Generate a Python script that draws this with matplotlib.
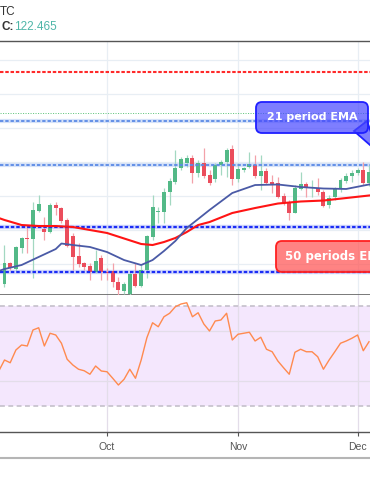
import matplotlib
matplotlib.use('Agg')
import matplotlib.pyplot as plt
from matplotlib.patches import FancyBboxPatch, Polygon
import numpy as np

plt.rcParams['lines.scale_dashes'] = False

# daily candles, trading-day index 0..64
opens = [120.706, 121.010, 120.922, 121.239, 121.386, 121.363, 121.779, 121.514, 121.475, 121.863,
         121.819, 121.647, 121.411, 121.117, 121.010, 120.970, 120.886, 121.083, 120.886, 120.901,
         120.739, 120.607, 120.558, 120.853, 120.681, 120.911, 121.401, 121.760, 121.769, 122.054,
         122.210, 122.407, 122.489, 122.554, 122.333, 122.481, 122.308, 122.245, 122.456, 122.504,
         122.686, 122.245, 122.382, 122.422, 122.456, 122.294, 122.372, 122.206, 122.186, 122.000,
         121.901, 121.754, 122.098, 122.172, 122.113, 122.113, 122.063, 121.867, 121.981, 122.098,
         122.225, 122.294, 122.333, 122.382, 122.191]
highs = [121.279, 121.033, 121.264, 121.401, 121.573, 121.916, 122.014, 121.695, 121.901, 121.916,
         121.842, 121.672, 121.451, 121.304, 121.033, 121.010, 121.206, 121.132, 120.936, 121.010,
         120.813, 120.739, 120.886, 121.010, 120.985, 121.426, 122.014, 121.842, 122.113, 122.260,
         122.676, 122.578, 122.603, 122.603, 122.529, 122.701, 122.382, 122.481, 122.529, 122.701,
         122.750, 122.481, 122.431, 122.651, 122.603, 122.603, 122.407, 122.308, 122.283, 122.039,
         121.941, 122.161, 122.357, 122.210, 122.235, 122.260, 122.088, 122.014, 122.136, 122.260,
         122.333, 122.382, 122.407, 122.504, 122.456]
lows = [120.666, 120.911, 120.901, 121.157, 121.157, 120.789, 121.769, 121.353, 121.451, 121.720,
        121.598, 121.254, 120.911, 120.960, 120.911, 120.764, 120.863, 120.764, 120.764, 120.666,
        120.544, 120.558, 120.544, 120.666, 120.666, 120.789, 121.353, 121.598, 121.598, 121.867,
        122.176, 122.382, 122.431, 122.186, 122.283, 122.260, 122.161, 122.210, 122.308, 122.283,
        122.161, 122.210, 122.357, 122.410, 122.260, 122.088, 122.180, 122.044, 121.966, 121.867,
        121.647, 121.745, 122.088, 121.989, 121.989, 122.014, 121.842, 121.819, 121.941, 122.063,
        122.186, 122.210, 122.308, 122.161, 122.147]
closes = [121.010, 120.936, 121.245, 121.386, 121.363, 121.794, 121.878, 121.475, 121.863, 121.819,
          121.636, 121.264, 121.107, 121.000, 120.951, 120.886, 121.048, 120.886, 120.863, 120.739,
          120.617, 120.706, 120.853, 120.681, 120.911, 121.411, 121.842, 121.779, 122.054, 122.225,
          122.407, 122.539, 122.554, 122.333, 122.481, 122.294, 122.195, 122.456, 122.504, 122.676,
          122.245, 122.392, 122.411, 122.470, 122.294, 122.367, 122.186, 122.161, 121.989, 121.892,
          121.754, 122.113, 122.172, 122.113, 122.136, 122.063, 121.857, 121.966, 122.098, 122.235,
          122.294, 122.333, 122.382, 122.186, 122.353]

# moving averages
ema_idx = [-1, 0, 3, 6, 9, 10, 12, 15, 18, 21, 24, 26, 28, 30, 32, 34, 36, 40, 44, 48, 52, 56, 60, 64, 65]
ema21 = [120.897, 120.926, 120.985, 121.103, 121.220, 121.301, 121.279, 121.250, 121.176, 121.058,
         120.985, 121.058, 121.191, 121.338, 121.529, 121.661, 121.794, 122.044, 122.161, 122.169,
         122.132, 122.110, 122.103, 122.169, 122.172]
ema50 = [121.676, 121.647, 121.573, 121.558, 121.558, 121.553, 121.544, 121.500, 121.456, 121.375,
         121.294, 121.279, 121.323, 121.382, 121.470, 121.573, 121.617, 121.750, 121.823, 121.889,
         121.919, 121.933, 121.970, 122.007, 122.014]

rsi_idx = list(range(-1, 65))
rsi = [44.0, 48.4, 47.3, 52.4, 54.4, 54.0, 60.4, 61.3, 54.0, 59.1, 58.4,
       55.1, 48.7, 46.4, 44.7, 44.1, 42.7, 46.0, 44.0, 43.7, 41.1,
       38.4, 40.7, 44.7, 41.1, 48.4, 57.3, 63.3, 61.7, 65.7, 67.1,
       69.7, 70.8, 71.3, 65.7, 67.3, 62.8, 60.0, 64.0, 64.4, 67.1,
       56.4, 58.7, 59.1, 59.5, 56.0, 57.5, 52.7, 51.7, 48.0, 45.3,
       42.7, 51.5, 52.7, 51.7, 51.7, 49.7, 44.7, 48.4, 51.7, 55.1,
       56.0, 57.1, 58.4, 52.1, 55.7]

# horizontal levels
red_levels = [123.823]
green_levels = [123.220]
light_blue_levels = [123.103, 122.456]
blue_levels = [121.544, 120.882]

month_idx = [18, 41, 62]
month_labels = ['Oct', 'Nov', 'Dec']

symbol_tail = 'TC'
last_close = '122.465'

W, H = 370, 493


def fy(py):
    return 1 - py / H


fig = plt.figure(figsize=(W / 100, H / 100), dpi=100)
fig.patch.set_facecolor('white')

ax = fig.add_axes([0, fy(295), 1, fy(41) - fy(295)])
rax = fig.add_axes([0, fy(432), 1, fy(295) - fy(432)])

xlim = (-0.79, 64.18)
grid_c = '#e8eef4'
axis_c = '#555555'

# price pane
ax.set_xlim(*xlim)
ax.set_ylim(120.544, 124.279)
ax.set_yticks(np.arange(121.0, 124.01, 0.5))
ax.set_xticks(month_idx)
ax.grid(color=grid_c, lw=0.9, zorder=0)
ax.set_axisbelow(True)
ax.tick_params(length=0, labelleft=False, labelbottom=False)
for s in ['left', 'right']:
    ax.spines[s].set_visible(False)
ax.spines['top'].set_color(axis_c)
ax.spines['bottom'].set_color(axis_c)
ax.spines['top'].set_linewidth(1.0)
ax.spines['bottom'].set_linewidth(1.1)

for lv in red_levels:
    ax.axhline(lv, color='#ff2a2a', lw=1.5, dashes=(2.5, 1.3), zorder=3)
for lv in green_levels:
    ax.axhline(lv, color='#6cc985', lw=0.7, dashes=(0.8, 1.0), zorder=3)
for lv in light_blue_levels:
    ax.axhline(lv, color='#d6e2f8', lw=3.0, zorder=2)
    ax.axhline(lv, color='#5b8ae6', lw=1.3, dashes=(2.4, 1.4), zorder=4)
for lv in blue_levels:
    ax.axhline(lv, color='#d3d8fb', lw=3.2, zorder=2)
    ax.axhline(lv, color='#1b2cf5', lw=1.6, dashes=(2.5, 1.4), zorder=4)

x = np.arange(len(closes))
o = np.array(opens)
c = np.array(closes)
up = c >= o
body_lo = np.minimum(o, c)
body_h = np.maximum(np.abs(c - o), 0.012)
wick_col = np.where(up, '#a3d8c1', '#f3a1a9')
body_col = np.where(up, '#53b987', '#eb4d5c')
ax.vlines(x, lows, highs, colors=wick_col, lw=0.9, zorder=3)
ax.bar(x, body_h, bottom=body_lo, width=0.7, color=body_col, lw=0, zorder=3.5)

ax.plot(ema_idx, ema50, color='#ff1414', lw=1.5, zorder=5)
ax.plot(ema_idx, ema21, color='#4a5aa6', lw=1.3, zorder=5)

# rsi pane
rax.set_xlim(*xlim)
rax.set_ylim(19.6, 74.4)
rax.axhspan(30, 70, color='#f4e7fd', lw=0, zorder=0)
rax.set_yticks([40, 60])
rax.set_xticks(month_idx)
rax.set_xticklabels(month_labels, family='Liberation Sans', fontsize=7.5, color=axis_c)
rax.grid(color='#e3dde9', lw=0.9, zorder=0.5)
rax.set_axisbelow(True)
for lv in [30, 70]:
    rax.axhline(lv, color='#c5c0cb', lw=1.2, dashes=(3.5, 2.5), zorder=1)
rax.plot(rsi_idx, rsi, color='#ff8a4f', lw=1.0, zorder=3)
rax.tick_params(axis='y', length=0, labelleft=False)
rax.tick_params(axis='x', length=3, width=0.8, color=axis_c, pad=4)
for s in ['left', 'right', 'top']:
    rax.spines[s].set_visible(False)
rax.spines['bottom'].set_color(axis_c)
rax.spines['bottom'].set_linewidth(1.0)

# overlay in reference pixels for header and callouts
ov = fig.add_axes([0, 0, 1, 1])
ov.set_xlim(0, W)
ov.set_ylim(H, 0)
ov.axis('off')

ov.text(0, 12, symbol_tail, va='center', ha='left', fontsize=8.5,
        color='#333333', family='Liberation Sans')
ov.text(2, 27.5, 'C:', va='center', ha='left', fontsize=8.5,
        color='#333333', family='Liberation Sans', fontweight='bold')
ov.text(14.5, 27.5, last_close, va='center', ha='left', fontsize=8.5,
        color='#4fb6a8', family='Liberation Sans')

ov.plot([0, W], [458, 458], color='#b5b5b5', lw=1.5)

# 21 EMA callout
blue_fc = (0.28, 0.28, 1.0, 0.7)
ov.add_patch(Polygon([(354, 131), (367, 121), (378, 152)], closed=True,
                     fc=blue_fc, ec='#1f1fff', lw=1.3, zorder=5))
ov.add_patch(FancyBboxPatch((256, 102), 112, 31, boxstyle='round,pad=0,rounding_size=6',
                            fc=blue_fc, ec='#1f1fff', lw=1.3, zorder=6))
ov.text(312, 117.5, '21 period EMA', ha='center', va='center', color='white',
        fontsize=8, fontweight='bold', zorder=7)

# 50 EMA callout
ov.add_patch(FancyBboxPatch((276, 241), 130, 31, boxstyle='round,pad=0,rounding_size=6',
                            fc=(1.0, 0.33, 0.33, 0.72), ec='#ff2020', lw=1.3, zorder=6))
ov.text(285, 256.5, '50 periods EMA', ha='left', va='center', color='white',
        fontsize=8.5, fontweight='bold', zorder=7)

fig.savefig('out.png', dpi=100)
